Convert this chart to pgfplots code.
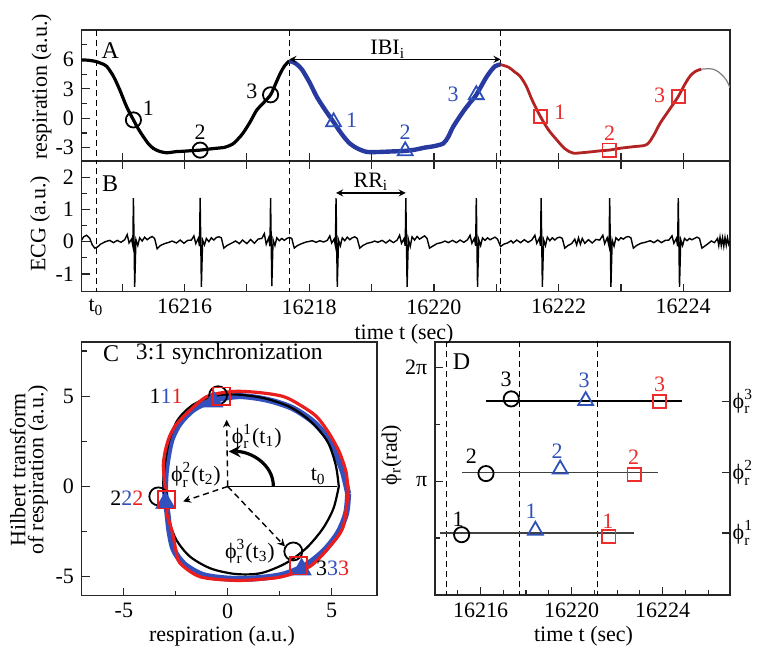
\documentclass[border=0pt]{standalone}
\usepackage{fontspec}
\setmainfont{Liberation Serif}
\usepackage{amsmath}
\usepackage{pgfplots}
\pgfplotsset{compat=1.18}
\definecolor{cblue}{RGB}{40,58,160}
\definecolor{mblue}{RGB}{45,80,185}
\definecolor{cred}{RGB}{178,35,35}
\definecolor{mred}{RGB}{235,45,45}
\definecolor{fred}{RGB}{235,30,30}
\definecolor{fblue}{RGB}{50,80,190}
\newcommand{\phir}[1]{$\text{ϕ}_{\text{r}}^{\text{#1}}$}
\newcommand{\fs}{\fontsize{11}{13}\selectfont}
\pgfplotsset{
  every axis/.append style={
    scale only axis, anchor=south west,
    /pgf/number format/assume math mode=true,
    tick label style={font=\fs},
    tick align=inside,
    major tick length=4pt, minor tick length=2.5pt,
    axis line style={line width=0.7pt, black!85},
    every tick/.style={black!85, line width=0.6pt},
  },
}
\tikzset{
  vdash/.style={black, line width=0.5pt, dash pattern=on 3pt off 2pt},
  lbl/.style={font=\fs, inner sep=0pt},
}
\begin{document}
\fs
\begin{tikzpicture}
\path[use as bounding box] (0,0) rectangle (381pt,325pt);
% ---------------- Panel A ----------------
\begin{axis}[at={(40.85pt,244.5pt)}, width=324.15pt, height=65.5pt,
  xmin=0.35, xmax=10.75, ymin=-4.36, ymax=9.0,
  xtick={1,...,10}, xticklabels={}, xtick pos=bottom, ytick pos=left,
  ytick={-3,0,3,6}, minor ytick={-1.5,1.5,4.5,7.5}]
\addplot[vdash, forget plot] coordinates {(0.58,-10) (0.58,20)};
\addplot[vdash, forget plot] coordinates {(3.68,-10) (3.68,20)};
\addplot[vdash, forget plot] coordinates {(7.07,-10) (7.07,20)};
\addplot[black, line width=1.6pt, smooth] coordinates {
(0.35,5.95) (0.45,5.92) (0.57,5.80) (0.66,5.60) (0.75,5.30) (0.86,4.27) (0.96,2.90) (1.07,1.19)
(1.18,-0.17) (1.26,-1.10) (1.34,-1.89) (1.42,-2.60) (1.50,-3.08) (1.60,-3.38) (1.71,-3.52)
(1.80,-3.46) (1.87,-3.40) (2.00,-3.36) (2.12,-3.30) (2.25,-3.25) (2.38,-3.15) (2.50,-3.07)
(2.65,-2.95) (2.78,-2.60) (2.86,-2.10) (2.94,-1.50) (3.05,-0.40) (3.16,0.85) (3.27,1.60)
(3.38,2.39) (3.46,3.50) (3.53,4.50) (3.60,5.30) (3.68,5.85)};
\addplot[cblue, line width=2.2pt, smooth] coordinates {
(3.68,5.85) (3.78,5.60) (3.88,5.00) (4.01,3.60) (4.12,2.20) (4.25,0.90) (4.39,-0.38)
(4.52,-1.60) (4.65,-2.57) (4.78,-3.10) (4.92,-3.43) (5.05,-3.45) (5.20,-3.42) (5.35,-3.38)
(5.54,-3.33) (5.70,-3.20) (5.85,-3.00) (6.00,-2.85) (6.15,-2.57) (6.23,-1.90) (6.31,-0.86)
(6.47,0.68) (6.58,1.60) (6.68,2.39) (6.85,4.27) (6.98,5.30) (7.07,5.47)};
\addplot[cred, line width=1.4pt, smooth] coordinates {
(7.07,5.47) (7.20,5.20) (7.30,4.70) (7.38,4.30) (7.48,3.30) (7.58,1.80) (7.71,0.16)
(7.84,-1.20) (7.97,-2.20) (8.10,-3.10) (8.23,-3.55) (8.40,-3.50) (8.56,-3.40) (8.70,-3.30)
(8.81,-3.25) (9.00,-3.05) (9.20,-2.90) (9.41,-2.70) (9.52,-1.80) (9.63,-0.50) (9.78,0.90)
(9.92,2.22) (10.02,3.40) (10.11,4.30) (10.20,4.80) (10.29,5.00)};
\addplot[gray, line width=0.6pt, smooth] coordinates {
(10.29,5.00) (10.40,5.05) (10.48,5.00) (10.56,4.75) (10.64,4.30) (10.70,3.80) (10.75,3.10)};
\addplot[only marks, mark=o, mark size=3.8pt, black, mark options={line width=0.9pt}]
  coordinates {(1.18,-0.17) (2.25,-3.25) (3.38,2.39)};
\addplot[only marks, mark=triangle, mark size=4.3pt, mblue, mark options={line width=0.9pt}]
  coordinates {(4.39,-0.38) (5.54,-3.33) (6.68,2.39)};
\addplot[only marks, mark=square, mark size=3.3pt, mred, mark options={line width=0.9pt}]
  coordinates {(7.71,0.16) (8.81,-3.25) (9.92,2.22)};
\draw[<->, >=stealth, line width=0.6pt] (axis cs:3.68,6) -- (axis cs:7.07,6);
\node[lbl, anchor=south] at (axis cs:5.26,6.1) {IBI\textsubscript{i}};
\node[lbl] at (axis cs:1.42,1.06) {1};
\node[lbl] at (axis cs:2.25,-1.40) {2};
\node[lbl] at (axis cs:3.08,2.70) {3};
\node[lbl, mblue] at (axis cs:4.68,-0.17) {1};
\node[lbl, mblue] at (axis cs:5.54,-1.40) {2};
\node[lbl, mblue] at (axis cs:6.31,2.39) {3};
\node[lbl, mred] at (axis cs:8.02,0.65) {1};
\node[lbl, mred] at (axis cs:8.82,-1.50) {2};
\node[lbl, mred] at (axis cs:9.62,2.29) {3};
\node[font=\fontsize{12}{14}\selectfont, inner sep=0pt] at (rel axis cs:0.044,0.843) {A};
\end{axis}
% ---------------- Panel B ----------------
\begin{axis}[at={(40.85pt,179.15pt)}, width=324.15pt, height=65.35pt,
  xmin=0.35, xmax=10.75, ymin=-1.55, ymax=2.5,
  xtick={1,...,10}, xticklabels={,16216,,16218,,16220,,16222,,16224},
  extra x ticks={0.58}, extra x tick labels={$\text{t}_{\text{0}}$},
  extra x tick style={major tick length=0pt},
  ytick={-1,0,1,2}, minor ytick={-0.5,0.5,1.5}, ytick pos=left]
\addplot[vdash, forget plot] coordinates {(0.58,-10) (0.58,20)};
\addplot[vdash, forget plot] coordinates {(3.68,-10) (3.68,20)};
\addplot[vdash, forget plot] coordinates {(7.07,-10) (7.07,20)};
\addplot[black, line width=0.7pt] coordinates {
(0.35,0.05) (0.38,0.15) (0.43,0.20) (0.48,0.10) (0.52,-0.10) (0.56,-0.20) (0.60,-0.17) (0.65,-0.08) (0.70,-0.03)
(0.73,0.00) (0.80,0.04) (0.86,-0.03) (0.92,0.04) (0.98,-0.02) (1.04,0.06) (1.08,0.22) (1.11,-0.04) (1.15,0.08) (1.17,-0.12)
(1.18,1.35) (1.20,-1.40) (1.22,0.06) (1.25,-0.12) (1.28,0.12) (1.32,0.02) (1.36,0.14) (1.40,0.06) (1.44,0.12) (1.48,0.16)
(1.52,0.10) (1.56,-0.22) (1.61,-0.12) (1.68,-0.06) (1.75,-0.02)
(1.80,0.02) (1.87,-0.04) (1.93,0.05) (1.99,-0.05) (2.05,0.04) (2.11,0.05) (2.15,0.18) (2.18,-0.06) (2.22,0.10) (2.24,-0.14)
(2.25,1.36) (2.27,-1.40) (2.29,0.05) (2.32,-0.10) (2.35,0.10) (2.39,0.00) (2.43,0.12) (2.47,0.05) (2.51,0.13) (2.55,0.15)
(2.59,0.12) (2.63,-0.20) (2.68,-0.12) (2.75,-0.05) (2.82,0.02) (2.88,-0.06)
(2.93,0.05) (3.00,-0.06) (3.06,0.07) (3.12,-0.05) (3.18,0.08) (3.24,0.10) (3.28,0.25) (3.31,-0.08) (3.35,0.12) (3.37,-0.14)
(3.38,1.35) (3.40,-1.38) (3.42,0.06) (3.45,-0.12) (3.48,0.12) (3.52,0.03) (3.56,0.10) (3.60,0.04) (3.64,0.10) (3.68,0.13)
(3.72,0.10) (3.76,-0.20) (3.81,-0.12) (3.88,-0.06) (3.95,-0.01)
(3.98,0.00) (4.05,0.03) (4.11,-0.02) (4.17,0.03) (4.23,-0.01) (4.29,0.04) (4.33,0.18) (4.36,-0.04) (4.40,0.08) (4.42,-0.12)
(4.43,1.35) (4.45,-1.40) (4.47,0.05) (4.50,-0.13) (4.53,0.12) (4.57,0.03) (4.61,0.14) (4.65,0.06) (4.69,0.12) (4.73,0.15)
(4.77,0.10) (4.81,-0.20) (4.86,-0.12) (4.93,-0.05) (5.00,-0.02)
(5.05,0.02) (5.10,-0.02) (5.17,0.04) (5.23,-0.04) (5.29,0.05) (5.35,-0.03) (5.41,0.05) (5.45,0.20) (5.48,-0.05) (5.52,0.09) (5.54,-0.13)
(5.55,1.35) (5.57,-1.40) (5.59,0.08) (5.62,-0.15) (5.65,0.15) (5.69,0.05) (5.73,0.16) (5.77,0.08) (5.81,0.13) (5.85,0.18)
(5.89,0.10) (5.93,-0.20) (5.98,-0.14) (6.05,-0.06) (6.12,-0.03)
(6.18,0.02) (6.23,-0.03) (6.30,0.04) (6.36,-0.03) (6.42,0.05) (6.48,-0.02) (6.54,0.06) (6.58,0.20) (6.61,-0.05) (6.65,0.10) (6.67,-0.13)
(6.68,1.35) (6.70,-1.40) (6.72,0.06) (6.75,-0.12) (6.78,0.12) (6.82,0.04) (6.86,0.12) (6.90,0.06) (6.94,0.10) (6.98,0.14)
(7.02,0.08) (7.07,-0.15) (7.12,-0.08) (7.18,-0.04) (7.24,0.03)
(7.27,-0.04) (7.33,0.05) (7.39,-0.03) (7.45,0.06) (7.51,-0.02) (7.57,0.05) (7.62,0.20) (7.65,-0.05) (7.69,0.10) (7.71,-0.13)
(7.72,1.35) (7.74,-1.40) (7.76,0.06) (7.79,-0.12) (7.82,0.14) (7.86,0.03) (7.90,0.12) (7.94,0.05) (7.98,0.12) (8.02,0.14)
(8.06,0.10) (8.10,-0.20) (8.15,-0.12) (8.21,-0.06) (8.26,0.08) (8.29,-0.10) (8.32,0.12) (8.35,-0.08) (8.38,0.10)
(8.42,-0.05) (8.48,0.06) (8.54,-0.04) (8.60,0.07) (8.66,0.05) (8.71,0.20) (8.74,-0.06) (8.78,0.12) (8.81,-0.14)
(8.82,1.35) (8.84,-1.40) (8.86,0.05) (8.89,-0.14) (8.92,0.12) (8.96,0.04) (9.00,0.12) (9.04,0.08) (9.08,0.14) (9.12,0.16)
(9.16,0.12) (9.20,-0.20) (9.25,-0.12) (9.32,-0.05) (9.39,-0.02)
(9.47,0.03) (9.53,-0.03) (9.59,0.05) (9.65,-0.03) (9.71,0.04) (9.77,0.05) (9.82,0.18) (9.85,-0.05) (9.89,0.10) (9.91,-0.14)
(9.92,1.35) (9.94,-1.40) (9.96,0.06) (9.99,-0.12) (10.02,0.10) (10.06,0.03) (10.10,0.10) (10.14,0.06) (10.18,0.10) (10.22,0.14)
(10.26,0.10) (10.30,-0.20) (10.35,-0.13) (10.40,-0.06) (10.45,0.02) (10.50,-0.03) (10.55,0.10) (10.57,-0.12) (10.59,0.14)
(10.61,-0.12) (10.63,0.12) (10.65,-0.14) (10.67,0.13) (10.69,-0.11) (10.71,0.12) (10.73,-0.08) (10.75,0.02)};
\draw[<->, >=stealth, line width=0.6pt] (axis cs:4.43,1.51) -- (axis cs:5.55,1.51);
\node[lbl, anchor=south] at (axis cs:4.99,1.58) {RR\textsubscript{i}};
\node[font=\fontsize{12}{14}\selectfont, inner sep=0pt] at (rel axis cs:0.044,0.824) {B};
\end{axis}
% ---------------- Panel C ----------------
\begin{axis}[at={(40.85pt,27.15pt)}, width=147.65pt, height=126.85pt,
  xmin=-7.03, xmax=7.19, ymin=-6.05, ymax=8.0,
  xtick={-5,0,5}, minor xtick={-2.5,2.5}, ytick={-5,0,5}, minor ytick={-2.5,2.5,7.5},
  xtick pos=bottom, ytick pos=left]
\addplot[fblue, line width=3pt, smooth] coordinates {
(5.80,-0.40) (5.55,0.80) (5.20,1.80) (4.80,2.70) (4.10,3.60) (3.10,4.35) (1.90,4.80) (0.60,5.00)
(-0.60,4.80) (-1.60,4.30) (-2.30,3.50) (-2.70,2.60) (-2.90,1.50) (-3.00,0.50) (-3.00,-0.60)
(-2.90,-1.50) (-2.80,-2.50) (-2.60,-3.50) (-2.10,-4.30) (-1.20,-4.90) (0.00,-5.10) (1.20,-5.10)
(2.60,-4.90) (3.70,-4.40) (4.60,-3.60) (5.30,-2.60) (5.70,-1.50) (5.80,-0.40)};
\addplot[black, line width=1.1pt, smooth] coordinates {
(5.35,0.00) (5.20,1.20) (4.80,2.50) (4.00,3.60) (3.00,4.40) (1.70,4.90) (0.30,5.10) (-0.70,5.00)
(-1.70,4.50) (-2.40,3.70) (-2.80,2.60) (-3.00,1.40) (-3.10,0.20) (-3.00,-1.00) (-2.80,-2.00)
(-2.45,-3.00) (-1.80,-3.90) (-0.80,-4.55) (0.40,-4.85) (1.60,-4.80) (2.80,-4.25) (3.80,-3.40)
(4.60,-2.30) (5.10,-1.20) (5.35,0.00)};
\addplot[fred, line width=1.6pt, smooth] coordinates {
(5.80,-0.20) (5.70,0.80) (5.45,1.70) (5.25,2.20) (4.85,3.00) (4.28,3.87) (3.50,4.50) (2.68,4.98)
(1.50,5.20) (0.27,5.26) (-1.00,4.98) (-1.97,4.05) (-2.50,3.40) (-2.80,2.77) (-3.00,2.00)
(-3.10,1.20) (-3.05,0.40) (-3.02,0.00) (-2.95,-0.60) (-2.90,-1.10) (-2.94,-1.47) (-2.75,-2.20)
(-2.62,-2.77) (-2.50,-3.50) (-2.30,-4.24) (-1.33,-5.00) (0.27,-5.20) (1.50,-5.15) (2.68,-4.98)
(3.96,-4.43) (4.93,-3.30) (5.57,-2.20) (5.80,-0.20)};
\draw[line width=0.8pt] (axis cs:0,0) -- (axis cs:5.25,0);
\draw[->, >=stealth, line width=0.7pt, dash pattern=on 3pt off 2pt] (axis cs:0,0) -- (axis cs:-0.05,3.69);
\draw[->, >=stealth, line width=0.7pt, dash pattern=on 3pt off 2pt] (axis cs:0,0) -- (axis cs:-2.14,-0.83);
\draw[->, >=stealth, line width=0.7pt, dash pattern=on 3pt off 2pt] (axis cs:0,0) -- (axis cs:2.76,-3.32);
\draw[->, >=stealth, line width=1.6pt] (axis cs:2.2,0) to[out=90, in=0] (axis cs:0.05,1.94);
\addplot[only marks, mark=o, mark size=4.5pt, black, mark options={line width=0.9pt}]
  coordinates {(-0.46,5.05) (-3.34,-0.55) (3.16,-3.6)};
\addplot[only marks, mark=triangle*, mark size=5pt, fblue, mark options={line width=0.9pt}]
  coordinates {(-0.69,4.7) (-3.0,-0.9) (3.56,-4.6)};
\addplot[only marks, mark=square, mark size=4.3pt, fred, mark options={line width=0.9pt}]
  coordinates {(-0.29,5.0) (-2.94,-0.74) (3.4,-4.4)};
\node[lbl] at (axis cs:4.36,0.55) {t\textsubscript{0}};
\node[lbl] at (axis cs:1.4,2.77) {\phir{1}(t\textsubscript{1})};
\node[lbl] at (axis cs:-1.53,0.65) {\phir{2}(t\textsubscript{2})};
\node[lbl] at (axis cs:1.07,-3.6) {\phir{3}(t\textsubscript{3})};
\node[lbl] at (axis cs:-2.97,4.98) {1{\color{fblue}1}{\color{fred}1}};
\node[lbl] at (axis cs:-4.86,-0.64) {2{\color{fblue}2}{\color{fred}2}};
\node[lbl] at (axis cs:5.05,-4.52) {3{\color{fblue}3}{\color{fred}3}};
\node[font=\fontsize{12}{14}\selectfont, inner sep=0pt] at (rel axis cs:0.10,0.955) {C};
\node[font=\fontsize{11.8}{14}\selectfont, inner sep=0pt] at (rel axis cs:0.50,0.955) {3:1 synchronization};
\end{axis}
% ---------------- Panel D ----------------
\begin{axis}[at={(217.5pt,27.5pt)}, width=147.5pt, height=126.5pt,
  xmin=0, xmax=12.96, ymin=0, ymax=6.98,
  xtick={2,6,10}, xticklabels={16216,16220,16224}, minor xtick={1,3,4,5,7,8,9,11,12},
  ytick={0,3.1416,6.2832}, yticklabels={,π,2π}, minor ytick={1.5708,4.7124},
  xtick pos=bottom, ytick pos=left]
\addplot[vdash, forget plot] coordinates {(0.51,-10) (0.51,20)};
\addplot[vdash, forget plot] coordinates {(3.72,-10) (3.72,20)};
\addplot[vdash, forget plot] coordinates {(7.13,-10) (7.13,20)};
\addplot[black!75, line width=0.8pt] coordinates {(0.22,1.711) (8.73,1.711)};
\addplot[black!75, line width=0.8pt] coordinates {(1.17,3.375) (9.78,3.375)};
\addplot[black, line width=0.8pt] coordinates {(2.26,5.344) (10.87,5.344)};
\addplot[only marks, mark=o, mark size=3.8pt, black, mark options={line width=0.9pt}]
  coordinates {(1.17,1.664) (2.24,3.35) (3.35,5.41)};
\addplot[only marks, mark=triangle, mark size=4.3pt, mblue, mark options={line width=0.9pt}]
  coordinates {(4.41,1.78) (5.5,3.47) (6.62,5.36)};
\addplot[only marks, mark=square, mark size=3.3pt, mred, mark options={line width=0.9pt}]
  coordinates {(7.64,1.617) (8.75,3.33) (9.87,5.34)};
\node[lbl] at (axis cs:1.02,2.08) {1};
\node[lbl] at (axis cs:1.60,3.84) {2};
\node[lbl] at (axis cs:3.13,5.96) {3};
\node[lbl, mblue] at (axis cs:4.22,2.31) {1};
\node[lbl, mblue] at (axis cs:5.37,3.97) {2};
\node[lbl, mblue] at (axis cs:6.55,5.92) {3};
\node[lbl, mred] at (axis cs:7.60,2.03) {1};
\node[lbl, mred] at (axis cs:8.73,3.80) {2};
\node[lbl, mred] at (axis cs:9.87,5.82) {3};
\node[font=\fontsize{12}{14}\selectfont, inner sep=0pt] at (rel axis cs:0.09,0.922) {D};
\end{axis}
\begin{axis}[at={(217.5pt,27.5pt)}, width=147.5pt, height=126.5pt,
  xmin=0, xmax=12.96, ymin=0, ymax=6.98,
  axis x line=none, axis y line*=right,
  ytick={1.711,3.375,5.344}, yticklabels={\phir{1},\phir{2},\phir{3}},
  yticklabel style={xshift=-2.5pt}]
\addplot[draw=none, forget plot] coordinates {(1,1)};
\end{axis}
% ---------------- Axis labels ----------------
\node[rotate=90, inner sep=0pt] at (20.85pt,281.5pt) {respiration (a.u.)};
\node[rotate=90, inner sep=0pt] at (20pt,213pt) {ECG (a.u.)};
\node[inner sep=0pt] at (202pt,158pt) {time t (sec)};
\node[rotate=90, inner sep=0pt, align=center, font=\fontsize{11}{9}\selectfont] at (14.5pt,90pt) {Hilbert transform\\of respiration (a.u.)};
\node[inner sep=0pt] at (111pt,6.7pt) {respiration (a.u.)};
\node[inner sep=0pt] at (291.75pt,6.7pt) {time t (sec)};
\node[rotate=90, inner sep=0pt] at (195.85pt,97.5pt) {ϕ\textsubscript{r}(rad)};
\end{tikzpicture}
\end{document}
